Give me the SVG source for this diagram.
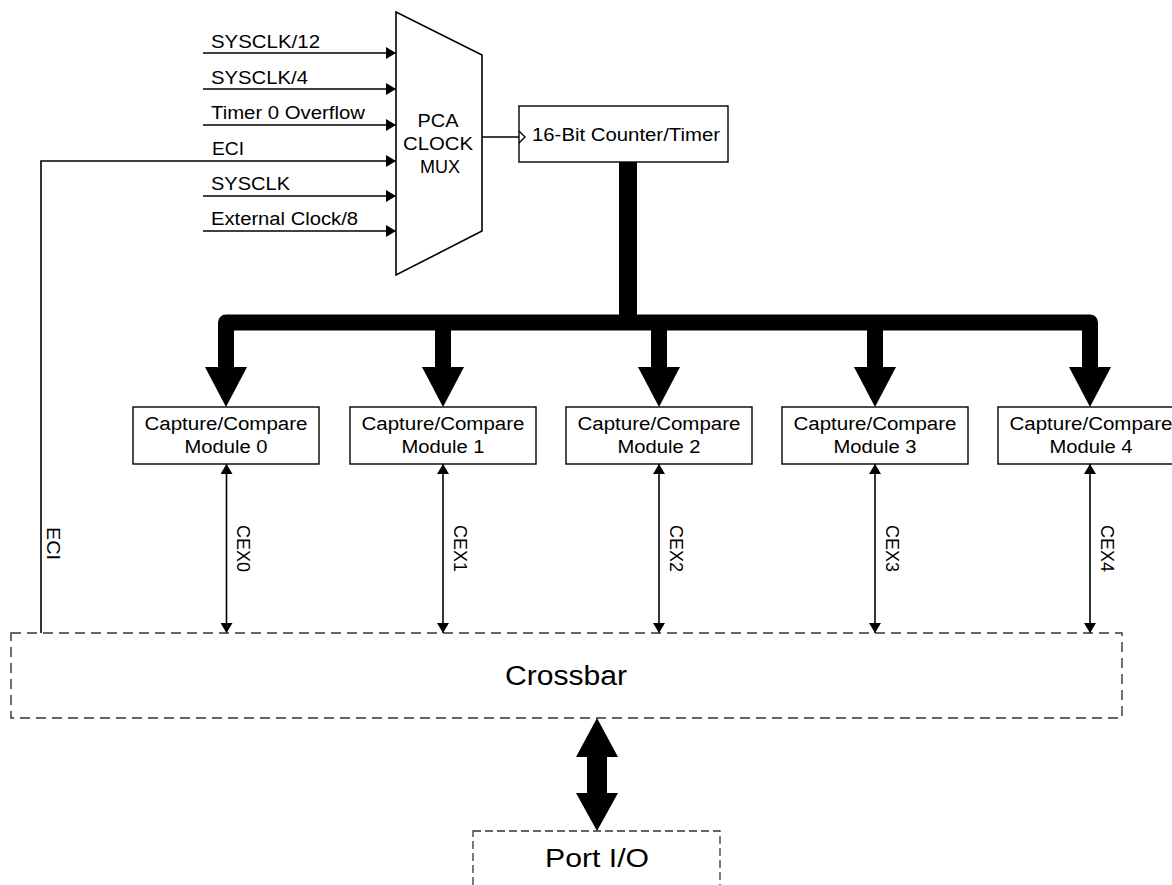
<svg xmlns="http://www.w3.org/2000/svg" width="1172" height="885" viewBox="0 0 1172 885">
<style>
text{font-family:"Liberation Sans",Arial,sans-serif;fill:#000}
.s{font-size:18px}
.box{fill:#fff;stroke:#000;stroke-width:1.4}
.dash{fill:none;stroke:#333;stroke-width:1.4;stroke-dasharray:10 6}
.dash2{fill:none;stroke:#333;stroke-width:1.3;stroke-dasharray:8 4}
.ln{fill:none;stroke:#000;stroke-width:1.6}
.bus{fill:none;stroke:#000;stroke-width:16;stroke-linejoin:round}
</style>
<defs>
<marker id="ah" viewBox="0 0 10 12" refX="10" refY="6" markerWidth="10" markerHeight="12" markerUnits="userSpaceOnUse" orient="auto-start-reverse">
<path d="M0,0 L10,6 L0,12 Z" fill="#000"/>
</marker>
</defs>
<rect width="1172" height="885" fill="#fff"/>

<g id="connectors">
<line class="ln" x1="203" y1="53" x2="396" y2="53" marker-end="url(#ah)"/>
<line class="ln" x1="203" y1="89" x2="396" y2="89" marker-end="url(#ah)"/>
<line class="ln" x1="203" y1="125" x2="396" y2="125" marker-end="url(#ah)"/>
<path class="ln" d="M41,633 V161 H396" marker-end="url(#ah)"/>
<line class="ln" x1="203" y1="196" x2="396" y2="196" marker-end="url(#ah)"/>
<line class="ln" x1="203" y1="231" x2="396" y2="231" marker-end="url(#ah)"/>
<line class="ln" x1="482" y1="137" x2="519" y2="137"/>
<line x1="628" y1="162" x2="628" y2="323" stroke="#000" stroke-width="18"/>
<path class="bus" d="M226,370 V322.5 H1090 V370"/>
<line x1="443" y1="322" x2="443" y2="370" stroke="#000" stroke-width="16"/>
<line x1="659" y1="322" x2="659" y2="370" stroke="#000" stroke-width="16"/>
<line x1="875" y1="322" x2="875" y2="370" stroke="#000" stroke-width="16"/>
<polygon points="205,367 247,367 226,407"/>
<polygon points="422,367 464,367 443,407"/>
<polygon points="638,367 680,367 659,407"/>
<polygon points="854,367 896,367 875,407"/>
<polygon points="1069,367 1111,367 1090,407"/>
<line class="ln" x1="226.5" y1="464" x2="226.5" y2="633" marker-start="url(#ah)" marker-end="url(#ah)"/>
<line class="ln" x1="443" y1="464" x2="443" y2="633" marker-start="url(#ah)" marker-end="url(#ah)"/>
<line class="ln" x1="659" y1="464" x2="659" y2="633" marker-start="url(#ah)" marker-end="url(#ah)"/>
<line class="ln" x1="875" y1="464" x2="875" y2="633" marker-start="url(#ah)" marker-end="url(#ah)"/>
<line class="ln" x1="1090" y1="464" x2="1090" y2="633" marker-start="url(#ah)" marker-end="url(#ah)"/>
<polygon points="597,718 576,757 587,757 587,793 576,793 597,831 618,793 607,793 607,757 618,757"/>
<text class="s" x="211" y="48" textLength="109" lengthAdjust="spacingAndGlyphs">SYSCLK/12</text>
<text class="s" x="211" y="84" textLength="97" lengthAdjust="spacingAndGlyphs">SYSCLK/4</text>
<text class="s" x="211" y="119" textLength="154" lengthAdjust="spacingAndGlyphs">Timer 0 Overflow</text>
<text class="s" x="212" y="155" textLength="32" lengthAdjust="spacingAndGlyphs">ECI</text>
<text class="s" x="211" y="190" textLength="79" lengthAdjust="spacingAndGlyphs">SYSCLK</text>
<text class="s" x="211" y="225" textLength="147" lengthAdjust="spacingAndGlyphs">External Clock/8</text>
<text class="s" transform="translate(47,527) rotate(90)" textLength="33" lengthAdjust="spacingAndGlyphs">ECI</text>
<text class="s" transform="translate(237,525) rotate(90)" textLength="47" lengthAdjust="spacingAndGlyphs">CEX0</text>
<text class="s" transform="translate(454,525) rotate(90)" textLength="47" lengthAdjust="spacingAndGlyphs">CEX1</text>
<text class="s" transform="translate(670,525) rotate(90)" textLength="47" lengthAdjust="spacingAndGlyphs">CEX2</text>
<text class="s" transform="translate(886,525) rotate(90)" textLength="47" lengthAdjust="spacingAndGlyphs">CEX3</text>
<text class="s" transform="translate(1101,525) rotate(90)" textLength="47" lengthAdjust="spacingAndGlyphs">CEX4</text>
</g>

<g id="mux">
<polygon points="396,12 482,55 482,231 396,275" fill="#fff" stroke="#000" stroke-width="1.6"/>
<text class="s" x="438" y="127" text-anchor="middle" textLength="41" lengthAdjust="spacingAndGlyphs">PCA</text>
<text class="s" x="438" y="150" text-anchor="middle" textLength="70" lengthAdjust="spacingAndGlyphs">CLOCK</text>
<text class="s" x="440" y="173" text-anchor="middle" textLength="40" lengthAdjust="spacingAndGlyphs">MUX</text>
</g>

<g id="counter">
<rect class="box" x="519" y="106" width="209" height="56"/>
<polyline points="519,131 525,137 519,143" fill="none" stroke="#000" stroke-width="1.4"/>
<text class="s" x="532" y="141" textLength="188" lengthAdjust="spacingAndGlyphs">16-Bit Counter/Timer</text>
</g>

<g id="module0">
<rect class="box" x="133" y="407" width="186" height="57"/>
<text class="s" x="226" y="430" text-anchor="middle" textLength="163" lengthAdjust="spacingAndGlyphs">Capture/Compare</text>
<text class="s" x="226" y="453" text-anchor="middle" textLength="83" lengthAdjust="spacingAndGlyphs">Module 0</text>
</g>
<g id="module1">
<rect class="box" x="350" y="407" width="186" height="57"/>
<text class="s" x="443" y="430" text-anchor="middle" textLength="163" lengthAdjust="spacingAndGlyphs">Capture/Compare</text>
<text class="s" x="443" y="453" text-anchor="middle" textLength="83" lengthAdjust="spacingAndGlyphs">Module 1</text>
</g>
<g id="module2">
<rect class="box" x="566" y="407" width="186" height="57"/>
<text class="s" x="659" y="430" text-anchor="middle" textLength="163" lengthAdjust="spacingAndGlyphs">Capture/Compare</text>
<text class="s" x="659" y="453" text-anchor="middle" textLength="83" lengthAdjust="spacingAndGlyphs">Module 2</text>
</g>
<g id="module3">
<rect class="box" x="782" y="407" width="186" height="57"/>
<text class="s" x="875" y="430" text-anchor="middle" textLength="163" lengthAdjust="spacingAndGlyphs">Capture/Compare</text>
<text class="s" x="875" y="453" text-anchor="middle" textLength="83" lengthAdjust="spacingAndGlyphs">Module 3</text>
</g>
<g id="module4">
<rect class="box" x="998" y="407" width="186" height="57"/>
<text class="s" x="1091" y="430" text-anchor="middle" textLength="163" lengthAdjust="spacingAndGlyphs">Capture/Compare</text>
<text class="s" x="1091" y="453" text-anchor="middle" textLength="83" lengthAdjust="spacingAndGlyphs">Module 4</text>
</g>

<g id="crossbar">
<rect class="dash" x="11" y="633" width="1111" height="85"/>
<text x="566" y="685" font-size="27" text-anchor="middle" textLength="122" lengthAdjust="spacingAndGlyphs">Crossbar</text>
</g>

<g id="portio">
<rect class="dash2" x="473" y="831" width="247" height="80"/>
<text x="597" y="867" font-size="25" text-anchor="middle" textLength="104" lengthAdjust="spacingAndGlyphs">Port I/O</text>
</g>
</svg>
